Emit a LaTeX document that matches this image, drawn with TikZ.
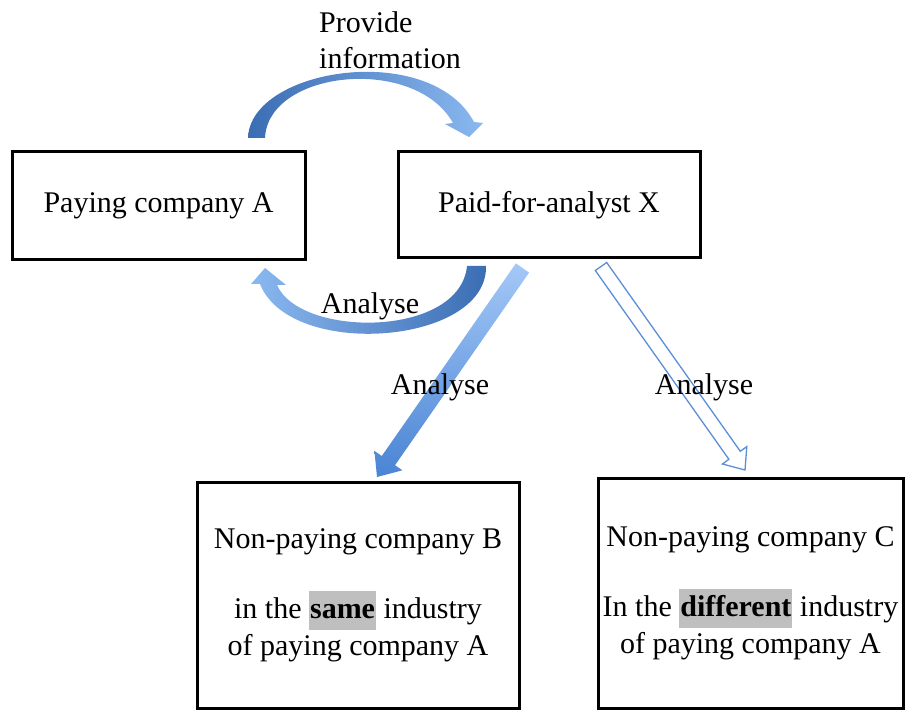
\documentclass[tikz,border=0pt]{standalone}
\usepackage{fontspec}
\setmainfont{LiberationSerif}[Extension=.ttf,UprightFont=*-Regular,BoldFont=*-Bold,ItalicFont=*-Italic,BoldItalicFont=*-BoldItalic]
\usepackage{xcolor}
\definecolor{hlgray}{HTML}{BFBFBF}
\definecolor{arrdark}{HTML}{3B6DB3}
\definecolor{arrlight}{HTML}{8AB8F0}
\definecolor{diagtop}{HTML}{A4C8F7}
\definecolor{diagbot}{HTML}{4A84D4}
\definecolor{hollowblue}{HTML}{5B8FD8}
\newcommand{\hl}[1]{{\setlength{\fboxsep}{1pt}\colorbox{hlgray}{\strut\textbf{#1}}}}
\begin{document}
\begin{tikzpicture}[x=1pt,y=-1pt,
  box/.style={draw=black,line width=3pt,rectangle,inner sep=0pt,align=center,
    font=\fontsize{30}{37}\selectfont},
  lbl/.style={inner sep=0pt,font=\fontsize{30}{37}\selectfont},
  blockarrow/.style={draw=none},
  hollowarrow/.style={draw=hollowblue,line width=1.3pt,fill=white,line join=miter}]
\useasboundingbox (0,0) rectangle (905,711);

% boxes
\node[box,minimum width=293pt,minimum height=108pt] (boxA) at (158.5,206) {Paying company A};
\node[box,minimum width=302pt,minimum height=106pt] (boxX) at (549,205) {Paid-for-analyst X};
\node[box,minimum width=322pt,minimum height=226pt] (boxB) at (358,595)
  {Non-paying company B\\[33pt]in the \hl{same} industry\\of paying company A};
\node[box,minimum width=305pt,minimum height=230pt] (boxC) at (750.5,593)
  {Non-paying company C\\[33pt]In the \hl{different} industry\\of paying company A};

% top curved arrow (Provide information)
\path[blockarrow,left color=arrdark,right color=arrlight]
  (248,138) .. controls (250,68) and (430,40) .. (474,122)
  -- (483,123) -- (469,137) -- (445,124) -- (453,123)
  .. controls (415,55) and (268,70) .. (265,138) -- cycle;

% bottom curved arrow (Analyse)
\path[blockarrow,left color=arrlight,right color=arrdark]
  (486,266) .. controls (488,345) and (290,360) .. (260,284)
  -- (251,284) -- (265,268) -- (286,285) -- (277,285)
  .. controls (300,338) and (460,338) .. (467,266) -- cycle;

% filled diagonal arrow to B
\path[blockarrow,top color=diagtop,bottom color=diagbot]
  (515.9,263.4) -- (529.1,272.6) -- (395.0,465.2) -- (402.4,470.3)
  -- (377,477) -- (374.4,450.9) -- (381.8,456.0) -- cycle;

% hollow diagonal arrow to C
\path[hollowarrow]
  (606.7,262.5) -- (740.3,451.3) -- (746.8,446.6) -- (745,470)
  -- (722.4,464.0) -- (728.9,459.3) -- (595.3,270.5) -- cycle;

% labels
\node[lbl,anchor=west] (prov) at (319,22) {Provide};
\node[lbl,anchor=west] (info) at (319,58) {information};
\node[lbl] (anA) at (370,306) {Analyse};
\node[lbl] (anB) at (440,387) {Analyse};
\node[lbl] (anC) at (704,387) {Analyse};
\end{tikzpicture}
\end{document}
